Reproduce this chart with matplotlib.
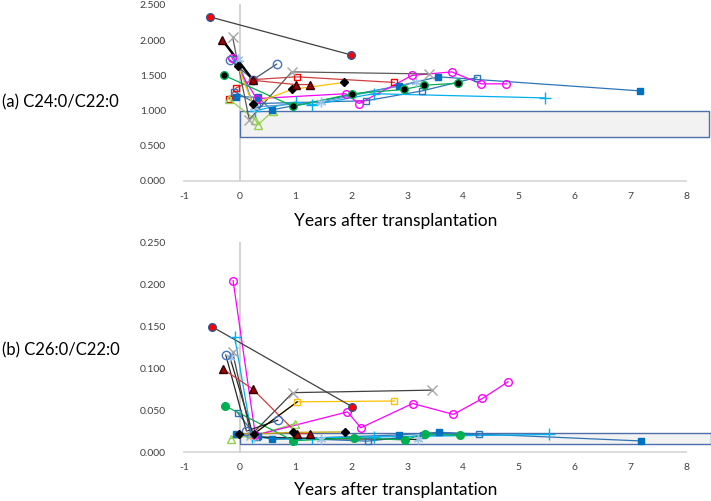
import matplotlib
matplotlib.use("Agg")
import matplotlib.pyplot as plt
from matplotlib.patches import Rectangle

plt.rcParams['font.family'] = ['Lato', 'DejaVu Sans']
plt.rcParams['axes.unicode_minus'] = False

# ---- data (x = years after transplantation) ----
# panel (a) C24:0/C22:0 and panel (b) C26:0/C22:0
redcirc_xa = [-0.53, 2.0]
redcirc_a = [2.33, 1.79]
redcirc_xb = [-0.5, 2.02]
redcirc_b = [0.150, 0.054]

tri_xa = [-0.31, 0.24, 1.0, 1.26]
tri_a = [2.0, 1.43, 1.37, 1.37]
tri_xb = [-0.3, 0.23, 1.03, 1.26]
tri_b = [0.099, 0.0755, 0.022, 0.022]

diam_xa = [-0.03, 0.23, 0.93, 1.87]
diam_a = [1.63, 1.09, 1.30, 1.40]
diam_xb = [-0.01, 0.26, 0.95, 1.89]
diam_b = [0.022, 0.0215, 0.0235, 0.024]

green_xa = [-0.28, 0.96, 2.02, 2.94, 3.30, 3.92]
green_a = [1.50, 1.06, 1.24, 1.30, 1.36, 1.39]
green_xb = [-0.26, 0.96, 2.05, 2.96, 3.32, 3.95]
green_b = [0.055, 0.0135, 0.017, 0.0144, 0.0216, 0.020]

bsq_xa = [-0.06, 0.32, 0.57, 2.85, 3.56, 7.18]
bsq_a = [1.20, 1.19, 1.01, 1.35, 1.48, 1.28]
bsq_xb = [-0.06, 0.32, 0.58, 2.85, 3.57, 7.2]
bsq_b = [0.021, 0.019, 0.015, 0.0204, 0.0236, 0.0132]

osq_xa = [-0.1, 0.3, 2.27, 3.27, 4.25]
osq_a = [1.27, 1.10, 1.14, 1.28, 1.47]
osq_xb = [-0.04, 0.3, 2.29, 3.28, 4.28]
osq_b = [0.047, 0.018, 0.013, 0.020, 0.021]

mag_xa = [-0.14, 0.3, 1.9, 2.14, 3.09, 3.80, 4.33, 4.78]
mag_a = [1.75, 1.17, 1.24, 1.10, 1.50, 1.55, 1.38, 1.38]
mag_xb = [-0.12, 0.28, 1.93, 2.17, 3.1, 3.83, 4.35, 4.81]
mag_b = [0.205, 0.020, 0.048, 0.029, 0.058, 0.045, 0.064, 0.084]

grx_xa = [-0.13, 0.17, 0.93, 3.4]
grx_a = [2.05, 0.87, 1.55, 1.52]
grx_xb = [-0.13, 0.2, 0.95, 3.44]
grx_b = [0.12, 0.02, 0.071, 0.074]

cyan_xa = [-0.05, 0.28, 1.0, 1.3, 2.4, 5.48]
cyan_a = [1.70, 1.00, 1.12, 1.08, 1.24, 1.18]
cyan_xb = [-0.09, 0.22, 1.0, 1.3, 2.4, 5.54]
cyan_b = [0.137, 0.018, 0.015, 0.017, 0.018, 0.021]

ast_xa = [-0.03, 0.25, 1.45, 3.16]
ast_a = [1.73, 1.05, 1.12, 1.40]
ast_xb = [-0.18, 0.25, 1.45, 3.2]
ast_b = [0.114, 0.018, 0.016, 0.015]

ocirc_xa = [-0.18, 0.24, 0.66]
ocirc_a = [1.72, 1.44, 1.66]
ocirc_xb = [-0.25, 0.12, 0.68]
ocirc_b = [0.116, 0.025, 0.038]

gtri_xa = [-0.19, 0.28, 0.33, 0.6]
gtri_a = [1.16, 0.87, 0.80, 1.0]
gtri_xb = [-0.16, 0.28, 0.99]
gtri_b = [0.016, 0.02, 0.034]

rsq_xa = [-0.19, -0.07, 0.24, 1.02, 2.77]
rsq_a = [1.17, 1.32, 1.44, 1.48, 1.40]

ysq_xb = [0.22, 1.03, 2.77]
ysq_b = [0.02, 0.060, 0.061]

# normal ranges (shaded boxes)
norm_a = (0.63, 0.99)
norm_b = (0.009, 0.0224)
xticks = [-1, 0, 1, 2, 3, 4, 5, 6, 7, 8]

# series styles: (x, y, marker, face, edge, line colour, msize, black head pts, head lw)
panel_a = [
    (rsq_xa, rsq_a, 's', 'none', '#ff0000', '#d04040', 5, 0, 0),
    (gtri_xa, gtri_a, '^', 'none', '#92d050', '#92d050', 6, 0, 0),
    (osq_xa, osq_a, 's', 'none', '#2e75b6', '#2e75b6', 5, 0, 0),
    (bsq_xa, bsq_a, 's', '#0070c0', '#0070c0', '#2e75b6', 5, 0, 0),
    (cyan_xa, cyan_a, '+', '#00b0f0', '#00b0f0', '#00b0f0', 8, 0, 0),
    (ast_xa, ast_a, (6, 2, 0), '#9dc3e6', '#9dc3e6', '#5b9bd5', 7, 0, 0),
    (mag_xa, mag_a, 'o', 'none', '#ff00ff', '#ff00ff', 5.5, 0, 0),
    (green_xa, green_a, 'o', 'black', '#00b050', '#00b050', 5.5, 0, 0),
    (grx_xa, grx_a, 'x', '#a6a6a6', '#a6a6a6', '#595959', 7, 0, 0),
    (diam_xa, diam_a, 'D', 'black', 'black', '#ffc000', 4, 0, 0),
    (ocirc_xa, ocirc_a, 'o', 'none', '#4472c4', '#44546a', 6, 0, 0),
    (tri_xa, tri_a, '^', '#a00000', '#300000', '#d04040', 5.5, 2, 1.8),
    (redcirc_xa, redcirc_a, 'o', '#ff0000', '#2f5597', '#404040', 5.5, 0, 0),
]

panel_b = [
    (gtri_xb, gtri_b, '^', 'none', '#92d050', '#92d050', 6, 0, 0),
    (osq_xb, osq_b, 's', 'none', '#2e75b6', '#2e75b6', 5, 0, 0),
    (bsq_xb, bsq_b, 's', '#0070c0', '#0070c0', '#2e75b6', 5, 0, 0),
    (cyan_xb, cyan_b, '+', '#00b0f0', '#00b0f0', '#00b0f0', 8, 0, 0),
    (ast_xb, ast_b, (6, 2, 0), '#9dc3e6', '#9dc3e6', '#262626', 7, 0, 0),
    (ysq_xb, ysq_b, 's', 'none', '#ffc000', '#ffc000', 5, 2, 0.9),
    (mag_xb, mag_b, 'o', 'none', '#ff00ff', '#ff00ff', 5.5, 0, 0),
    (green_xb, green_b, 'o', '#00b050', '#00b050', '#00b050', 5.5, 0, 0),
    (grx_xb, grx_b, 'x', '#a6a6a6', '#a6a6a6', '#404040', 7, 0, 0),
    (ocirc_xb, ocirc_b, 'o', 'none', '#4472c4', '#262626', 6, 0, 0),
    (tri_xb, tri_b, '^', '#a00000', '#300000', '#d04040', 5.5, 0, 0),
    (diam_xb, diam_b, 'D', 'black', 'black', '#c8a000', 4, 0, 0),
    (redcirc_xb, redcirc_b, 'o', '#ff0000', '#2f5597', '#404040', 5.5, 0, 0),
]

fig = plt.figure(figsize=(7.11, 5.01), dpi=100)

W, H = 711.0, 501.0
# axes positions in pixels: x -1 -> 184, 8 -> 686
ax_a = fig.add_axes([184 / W, (H - 181) / H, 502 / W, 176 / H])
ax_b = fig.add_axes([184 / W, (H - 452) / H, 502 / W, 209 / H])


def draw_panel(ax, series, ymax, yticks, norm, xmax_box):
    ax.set_xlim(-1, 8)
    ax.set_ylim(0, ymax)
    for s in ax.spines.values():
        s.set_visible(False)
    ax.axhline(0, color='#d9d9d9', lw=1.3, zorder=0.5, clip_on=False)
    ax.axvline(0, color='#d0d0d0', lw=1.3, zorder=0.5, clip_on=False)
    ax.add_patch(Rectangle((0, norm[0]), xmax_box, norm[1] - norm[0],
                           facecolor='#f2f2f2', edgecolor='#4f6fa8', lw=1.0,
                           zorder=1, clip_on=False))
    for x, y, mk, fc, ec, lc, ms, head, hlw in series:
        ax.plot(x, y, color=lc, lw=0.9, zorder=2, clip_on=False)
        if head:
            ax.plot(x[:head], y[:head], color='black', lw=hlw, zorder=2.1,
                    clip_on=False)
        ax.plot(x, y, ls='none', marker=mk, ms=ms, mfc=fc, mec=ec, mew=1.0,
                zorder=3, clip_on=False)
    ax.set_xticks(xticks)
    ax.set_yticks(yticks)
    ax.set_yticklabels(['{:.3f}'.format(v) for v in yticks])
    ax.tick_params(length=0, labelsize=7.5, colors='#404040')
    ax.tick_params(axis='y', pad=13)
    ax.tick_params(axis='x', pad=8)


draw_panel(ax_a, panel_a, 2.5, [0, 0.5, 1.0, 1.5, 2.0, 2.5], norm_a, 8.42)
draw_panel(ax_b, panel_b, 0.25, [0, 0.05, 0.10, 0.15, 0.20, 0.25], norm_b, 8.44)

fig.text(2 / W, 1 - 102 / H, '(a) C24:0/C22:0', fontsize=12, va='center',
         ha='left', color='black')
fig.text(2 / W, 1 - 350 / H, '(b) C26:0/C22:0', fontsize=12, va='center',
         ha='left', color='black')
fig.text(396 / W, 1 - 221 / H, 'Years after transplantation', fontsize=12.5,
         va='center', ha='center', color='black')
fig.text(396 / W, 1 - 490 / H, 'Years after transplantation', fontsize=12.5,
         va='center', ha='center', color='black')

fig.savefig('out.png', dpi=100)
